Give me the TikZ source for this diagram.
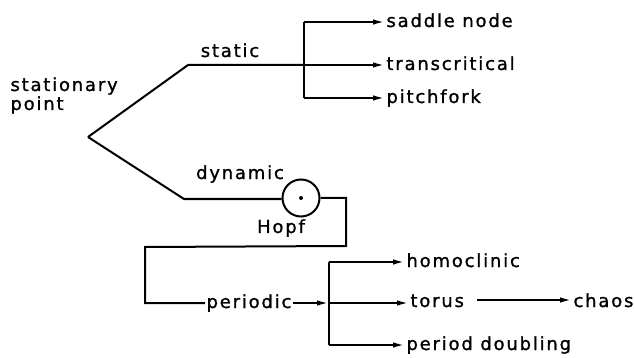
\documentclass[tikz,border=0pt]{standalone}
\usepackage{fontspec}
\setmainfont{DejaVu Sans}[LetterSpace=10,FakeBold=1.2]
\usetikzlibrary{arrows.meta}
\begin{document}
\begin{tikzpicture}[x=1pt,y=-1pt,line width=2pt,
  lab/.style={font=\fontsize{18}{19}\selectfont, inner sep=0pt, outer sep=1.5pt},
  arr/.style={-{Latex[length=12pt,width=5.5pt]}}]
\useasboundingbox (0,0) rectangle (634,358);
% nodes
\node[lab, align=left, anchor=base west] (sp) at (9,110) {stationary\\point};
\node[lab, anchor=base] (static) at (230,57) {static};
\node[lab, anchor=base] (dynamic) at (240,179) {dynamic};
\node[lab, anchor=base] (hopf) at (281,233) {Hopf};
\node[lab, anchor=base] (periodic) at (249,308) {periodic};
\node[lab, anchor=base west] (sn) at (385,27) {saddle node};
\node[lab, anchor=base west] (tc) at (385,70) {transcritical};
\node[lab, anchor=base west] (pf) at (385,103) {pitchfork};
\node[lab, anchor=base west] (hc) at (405,267) {homoclinic};
\node[lab, anchor=base west] (torus) at (409,307) {torus};
\node[lab, anchor=base west] (chaos) at (572,307) {chaos};
\node[lab, anchor=base west] (pd) at (405,350) {period doubling};
\node[circle, draw, minimum size=37pt, inner sep=0pt] (hc0) at (301,198) {};
\fill (hc0.center) circle (2pt);
% coordinates
\coordinate (v) at (88,137);
\coordinate (s1) at (188,65);
\coordinate (bm) at (304,65);
\coordinate (bt) at (304,22);
\coordinate (bb) at (304,98);
\coordinate (d1) at (184,199);
\coordinate (h1) at (346,198);
\coordinate (h2) at (346,246);
\coordinate (h3) at (145,247);
\coordinate (h4) at (145,303);
\coordinate (pm) at (329,303);
\coordinate (pt) at (329,262);
\coordinate (pb) at (329,345);
% connectors
\draw (v) -- (s1) -- (bm);
\draw (bt) -- (bb);
\draw[arr] (bt) -- (bt -| sn.west);
\draw[arr] (bm) -- (bm -| tc.west);
\draw[arr] (bb) -- (bb -| pf.west);
\draw (v) -- (d1) -- (d1 -| hc0.west);
\draw (hc0.east) -- (h1) -- (h2) -- (h3) -- (h4) -- (h4 -| periodic.west);
\draw[arr] (periodic.east |- pm) -- (pm);
\draw (pt) -- (pb);
\draw[arr] (pt) -- (pt -| hc.west);
\draw[arr] (pm) -- (pm -| torus.west);
\draw[arr] (pb) -- (pb -| pd.west);
\draw[arr] ([xshift=12pt]torus.east |- 0,300) -- (chaos.west |- 0,300);
\end{tikzpicture}
\end{document}
